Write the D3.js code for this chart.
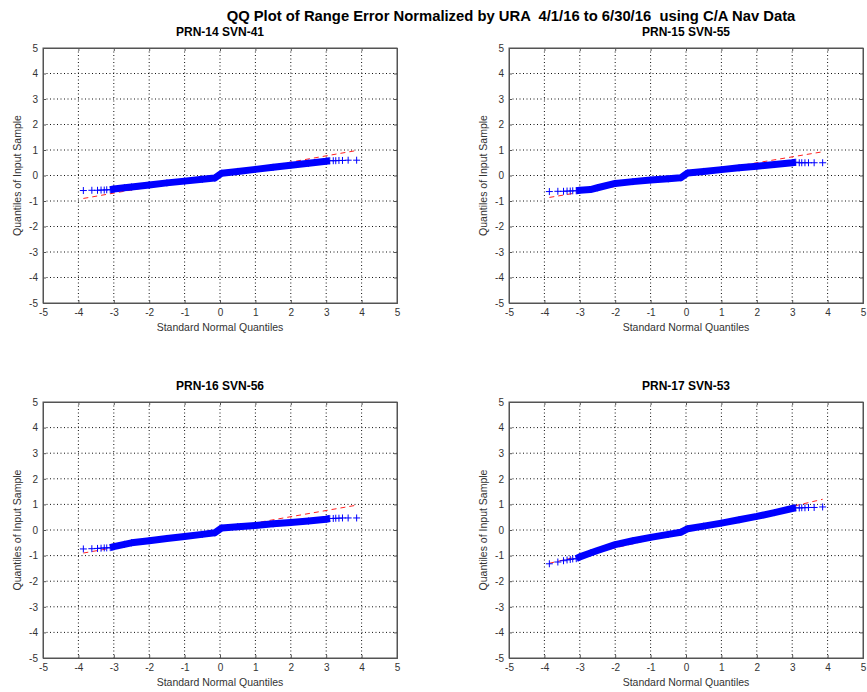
<!DOCTYPE html>
<html>
<head>
<meta charset="utf-8">
<script src="https://cdn.jsdelivr.net/npm/d3@7/dist/d3.min.js"></script>
<style>
  html, body { margin: 0; padding: 0; background: #fff; }
  svg { display: block; font-family: Arial, "Liberation Sans", sans-serif; }
</style>
</head>
<body>
<svg id="chart" width="867" height="692"></svg>
<script>
// ---------------- DATA ----------------
const mainTitle = "QQ Plot of Range Error Normalized by URA  4/1/16 to 6/30/16  using C/A Nav Data";
const panelTitles = ["PRN-14 SVN-41", "PRN-15 SVN-55", "PRN-16 SVN-56", "PRN-17 SVN-53"];
const xLabel = "Standard Normal Quantiles";
const yLabel = "Quantiles of Input Sample";
const xTicks = [-5, -4, -3, -2, -1, 0, 1, 2, 3, 4, 5];
const yTicks = [-5, -4, -3, -2, -1, 0, 1, 2, 3, 4, 5];

// dense body of the QQ plot (standard normal quantile -> sample quantile)
const bandX = [-3.1, -3, -2.7, -2.5, -2, -1.5, -1, -0.5, -0.15, 0.05, 0.5, 1, 1.5, 2, 2.5, 3, 3.1];
const bandY14 = [-0.56, -0.53, -0.48, -0.45, -0.37, -0.29, -0.22, -0.15, -0.1, 0.09, 0.16, 0.24, 0.32, 0.4, 0.48, 0.56, 0.58];
const bandY15 = [-0.6, -0.58, -0.55, -0.48, -0.31, -0.24, -0.18, -0.13, -0.09, 0.1, 0.16, 0.23, 0.3, 0.36, 0.43, 0.5, 0.52];
const bandY16 = [-0.69, -0.65, -0.56, -0.5, -0.42, -0.33, -0.25, -0.17, -0.11, 0.08, 0.13, 0.18, 0.24, 0.29, 0.35, 0.42, 0.45];
const bandY17 = [-1.12, -1.05, -0.9, -0.8, -0.57, -0.42, -0.29, -0.17, -0.09, 0.05, 0.15, 0.27, 0.4, 0.53, 0.68, 0.84, 0.87];

// sparse tail points
const tailX = [-3.86, -3.62, -3.46, -3.36, -3.27, -3.2, 3.2, 3.27, 3.36, 3.46, 3.62, 3.86];
const tailY14 = [-0.59, -0.58, -0.58, -0.57, -0.57, -0.56, 0.58, 0.58, 0.59, 0.59, 0.6, 0.6];
const tailY15 = [-0.63, -0.62, -0.62, -0.61, -0.61, -0.6, 0.5, 0.5, 0.5, 0.5, 0.5, 0.5];
const tailY16 = [-0.74, -0.73, -0.72, -0.71, -0.7, -0.7, 0.45, 0.46, 0.46, 0.47, 0.47, 0.47];
const tailY17 = [-1.32, -1.25, -1.2, -1.17, -1.15, -1.13, 0.86, 0.87, 0.87, 0.88, 0.88, 0.9];

// red dashed reference lines
const refX = [-3.86, 3.86];
const refY14 = [-0.9, 0.98];
const refY15 = [-0.86, 0.93];
const refY16 = [-0.9, 0.97];
const refY17 = [-1.3, 1.2];

// ---------------- LAYOUT ----------------
const panels = [
  { title: panelTitles[0], bandY: bandY14, tailY: tailY14, refY: refY14, x0: 43, x1: 397, y0: 48, y1: 303 },
  { title: panelTitles[1], bandY: bandY15, tailY: tailY15, refY: refY15, x0: 509, x1: 863, y0: 48, y1: 303 },
  { title: panelTitles[2], bandY: bandY16, tailY: tailY16, refY: refY16, x0: 43, x1: 397, y0: 402, y1: 658 },
  { title: panelTitles[3], bandY: bandY17, tailY: tailY17, refY: refY17, x0: 509, x1: 863, y0: 402, y1: 658 }
];

const svg = d3.select("#chart");

svg.append("text")
  .attr("x", 511).attr("y", 21)
  .attr("text-anchor", "middle")
  .attr("font-size", 14.8).attr("font-weight", "bold")
  .attr("fill", "#000")
  .style("white-space", "pre")
  .text(mainTitle);

const plus = "M-3.5,0H3.5M0,-3.5V3.5";

panels.forEach(p => {
  const x = d3.scaleLinear().domain([-5, 5]).range([p.x0, p.x1]);
  const y = d3.scaleLinear().domain([-5, 5]).range([p.y1, p.y0]);
  const g = svg.append("g");
  const w = p.x1 - p.x0, h = p.y1 - p.y0;

  // grid (dotted)
  g.append("g").selectAll("line").data(xTicks.slice(1, -1)).join("line")
    .attr("x1", d => x(d)).attr("x2", d => x(d))
    .attr("y1", p.y0).attr("y2", p.y1)
    .attr("stroke", "#111").attr("stroke-width", 1)
    .attr("stroke-dasharray", "1,2.5");
  g.append("g").selectAll("line").data(yTicks.slice(1, -1)).join("line")
    .attr("y1", d => y(d)).attr("y2", d => y(d))
    .attr("x1", p.x0).attr("x2", p.x1)
    .attr("stroke", "#111").attr("stroke-width", 1)
    .attr("stroke-dasharray", "1,2.5");

  // axes (ticks inward, box)
  const ax = g.append("g").attr("transform", `translate(0,${p.y1})`)
    .call(d3.axisBottom(x).tickValues(xTicks).tickSize(-3).tickPadding(6).tickFormat(d => String(d)));
  g.append("g").attr("transform", `translate(${p.x0},0)`)
    .call(d3.axisLeft(y).tickValues(yTicks).tickSize(-3).tickPadding(5).tickFormat(d => String(d)));
  g.append("g").attr("transform", `translate(0,${p.y0})`)
    .call(d3.axisTop(x).tickValues(xTicks).tickSize(-3).tickFormat(""));
  g.append("g").attr("transform", `translate(${p.x1},0)`)
    .call(d3.axisRight(y).tickValues(yTicks).tickSize(-3).tickFormat(""));
  g.selectAll(".domain").attr("stroke", "#555");
  g.selectAll(".tick line").attr("stroke", "#555");
  g.selectAll(".tick text").attr("fill", "#333").attr("font-size", 10)
    .attr("font-family", "Arial, 'Liberation Sans', sans-serif");
  ax.selectAll(".tick text").attr("dy", "0.71em");
  g.append("rect").attr("x", p.x0).attr("y", p.y0).attr("width", w).attr("height", h)
    .attr("fill", "none").attr("stroke", "#555").attr("stroke-width", 1);

  // red dashed reference line
  const refPts = refX.map((v, i) => [v, p.refY[i]]);
  g.append("path")
    .attr("d", d3.line().x(d => x(d[0])).y(d => y(d[1]))(refPts))
    .attr("fill", "none").attr("stroke", "#ff2020").attr("stroke-width", 1)
    .attr("stroke-dasharray", "5,4");

  // dense body
  const bandPts = bandX.map((v, i) => [v, p.bandY[i]]);
  g.append("path")
    .attr("d", d3.line().x(d => x(d[0])).y(d => y(d[1]))(bandPts))
    .attr("fill", "none").attr("stroke", "#0000ff").attr("stroke-width", 7)
    .attr("stroke-linejoin", "round");
  g.append("g").selectAll("path").data(bandPts).join("path")
    .attr("transform", d => `translate(${x(d[0])},${y(d[1])})`)
    .attr("d", plus).attr("stroke", "#0000ff").attr("stroke-width", 1).attr("fill", "none");

  // tail markers
  const tailPts = tailX.map((v, i) => [v, p.tailY[i]]);
  g.append("g").selectAll("path").data(tailPts).join("path")
    .attr("transform", d => `translate(${x(d[0])},${y(d[1])})`)
    .attr("d", plus).attr("stroke", "#0000ff").attr("stroke-width", 1).attr("fill", "none");

  // titles and labels
  g.append("text")
    .attr("x", (p.x0 + p.x1) / 2).attr("y", p.y0 - 12)
    .attr("text-anchor", "middle").attr("font-size", 12).attr("font-weight", "bold")
    .attr("fill", "#000").text(p.title);
  g.append("text")
    .attr("x", (p.x0 + p.x1) / 2).attr("y", p.y1 + 28)
    .attr("text-anchor", "middle").attr("font-size", 10.5)
    .attr("fill", "#333").text(xLabel);
  g.append("text")
    .attr("transform", `translate(${p.x0 - 22},${(p.y0 + p.y1) / 2}) rotate(-90)`)
    .attr("text-anchor", "middle").attr("font-size", 10.5)
    .attr("fill", "#333").text(yLabel);
});
</script>
</body>
</html>
